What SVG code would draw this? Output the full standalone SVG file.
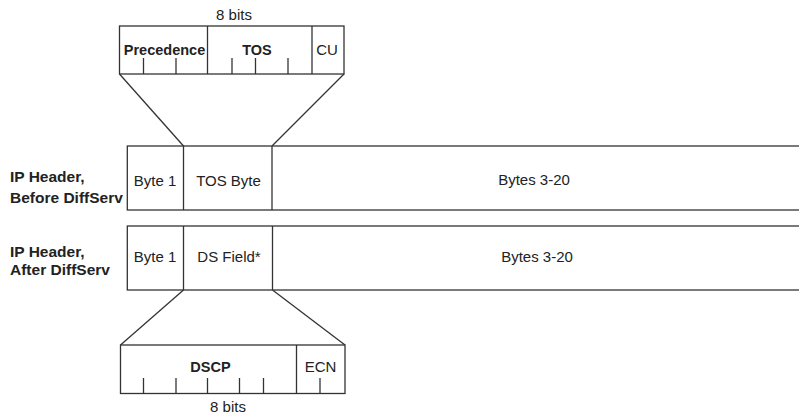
<svg xmlns="http://www.w3.org/2000/svg" width="799" height="414" viewBox="0 0 799 414">
  <style>
    .box { fill: #ffffff; stroke: #333333; stroke-width: 1.3; }
    .ln { fill: none; stroke: #333333; stroke-width: 1.3; }
    .t { font-family: "Liberation Sans", Arial, sans-serif; font-size: 15px; fill: #222222; text-anchor: middle; }
    .b { font-family: "Liberation Sans", Arial, sans-serif; font-size: 14.5px; font-weight: bold; fill: #222222; text-anchor: middle; }
    .lbl { font-family: "Liberation Sans", Arial, sans-serif; font-size: 15.5px; font-weight: bold; fill: #222222; }
  </style>
  <rect width="799" height="414" fill="#ffffff"/>

  <g id="connectors">
    <line class="ln" x1="119.5" y1="74" x2="183.5" y2="146"/>
    <line class="ln" x1="344" y1="74" x2="272" y2="146"/>
    <line class="ln" x1="183.5" y1="290" x2="120.5" y2="345"/>
    <line class="ln" x1="272.5" y1="290" x2="345" y2="345"/>
  </g>

  <g id="tos-byte-detail">
    <text class="t" x="234" y="20">8 bits</text>
    <rect class="box" x="119.5" y="26" width="224.5" height="48"/>
    <line class="ln" x1="207.5" y1="26" x2="207.5" y2="74"/>
    <line class="ln" x1="312" y1="26" x2="312" y2="74"/>
    <line class="ln" x1="143.5" y1="58" x2="143.5" y2="74"/>
    <line class="ln" x1="176" y1="58" x2="176" y2="74"/>
    <line class="ln" x1="232" y1="58" x2="232" y2="74"/>
    <line class="ln" x1="255.5" y1="58" x2="255.5" y2="74"/>
    <line class="ln" x1="288" y1="58" x2="288" y2="74"/>
    <text class="b" x="164.5" y="55">Precedence</text>
    <text class="b" x="257" y="55">TOS</text>
    <text class="t" x="327" y="55">CU</text>
  </g>

  <g id="header-before">
    <text class="lbl" x="10" y="182">IP Header,</text>
    <text class="lbl" x="10" y="203">Before DiffServ</text>
    <rect class="box" x="127.3" y="146" width="680" height="64"/>
    <line class="ln" x1="183.5" y1="146" x2="183.5" y2="210"/>
    <line class="ln" x1="272" y1="146" x2="272" y2="210"/>
    <text class="t" x="155" y="186">Byte 1</text>
    <text class="t" x="228.5" y="186">TOS Byte</text>
    <text class="t" x="534" y="185">Bytes 3-20</text>
  </g>

  <g id="header-after">
    <text class="lbl" x="10" y="256.5">IP Header,</text>
    <text class="lbl" x="10" y="274.5">After DiffServ</text>
    <rect class="box" x="127.3" y="226" width="680" height="64"/>
    <line class="ln" x1="183.5" y1="226" x2="183.5" y2="290"/>
    <line class="ln" x1="272.5" y1="226" x2="272.5" y2="290"/>
    <text class="t" x="155" y="262">Byte 1</text>
    <text class="t" x="229" y="262">DS Field*</text>
    <text class="t" x="537" y="262">Bytes 3-20</text>
  </g>

  <g id="ds-field-detail">
    <rect class="box" x="120.5" y="345" width="224.5" height="48.5"/>
    <line class="ln" x1="296.5" y1="345" x2="296.5" y2="393.5"/>
    <line class="ln" x1="143.5" y1="378" x2="143.5" y2="393.5"/>
    <line class="ln" x1="176" y1="378" x2="176" y2="393.5"/>
    <line class="ln" x1="207.5" y1="378" x2="207.5" y2="393.5"/>
    <line class="ln" x1="239.5" y1="378" x2="239.5" y2="393.5"/>
    <line class="ln" x1="263.5" y1="378" x2="263.5" y2="393.5"/>
    <line class="ln" x1="320" y1="378" x2="320" y2="393.5"/>
    <text class="b" x="210.5" y="372">DSCP</text>
    <text class="t" x="320.5" y="372">ECN</text>
    <text class="t" x="228" y="412">8 bits</text>
  </g>
</svg>
